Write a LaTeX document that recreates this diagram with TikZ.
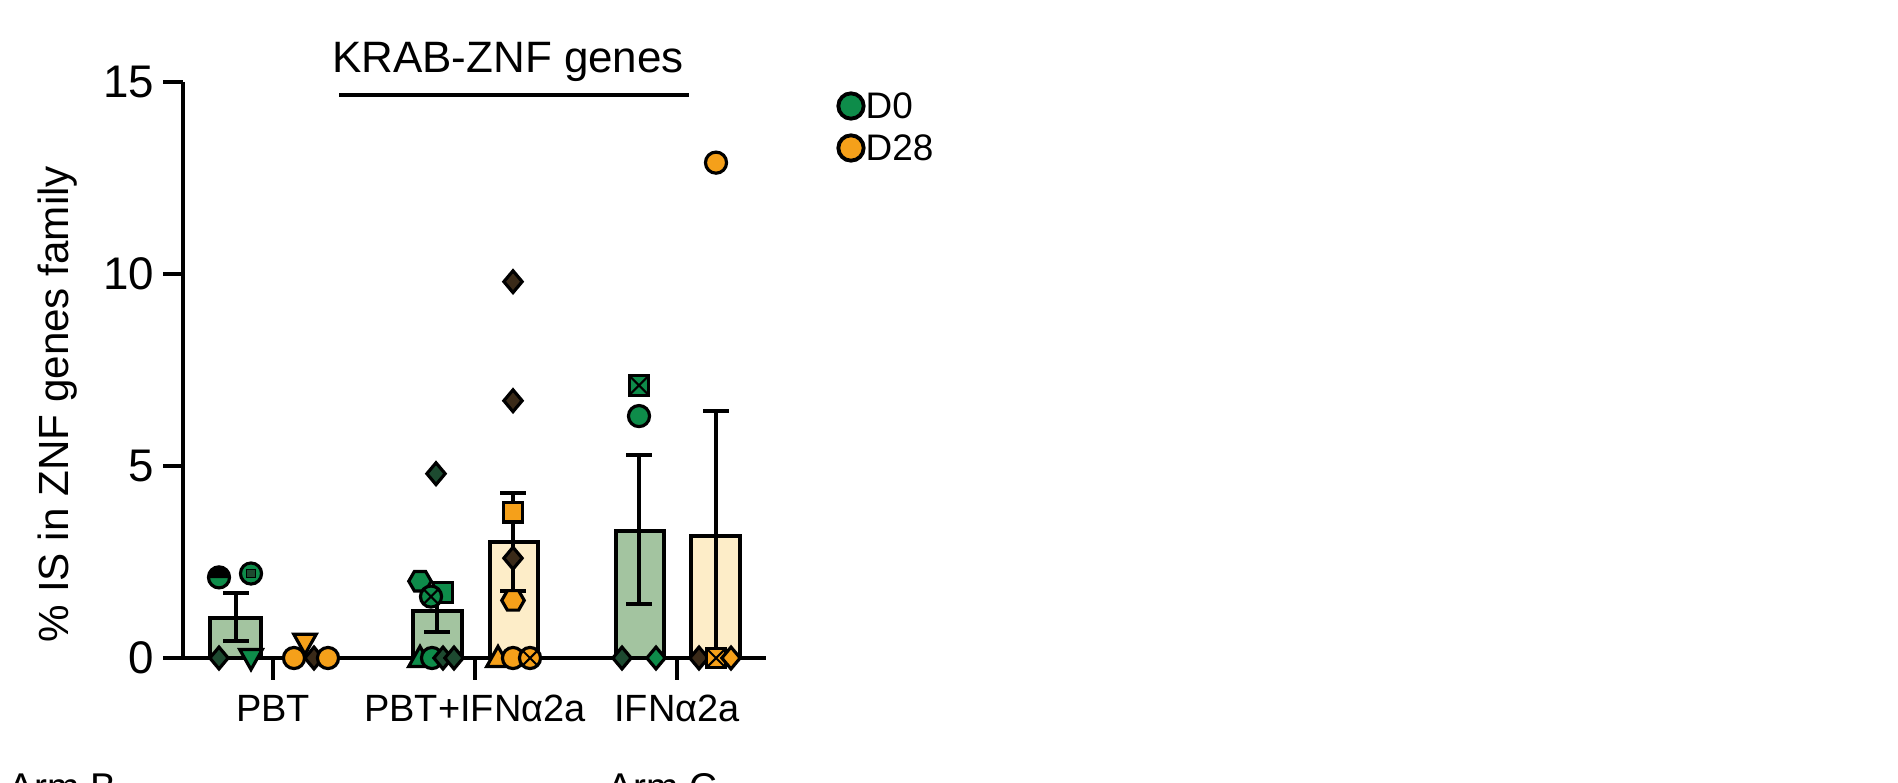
\documentclass[tikz,border=0pt]{standalone}
\usepackage{fontspec}
\setmainfont{Liberation Sans}
\definecolor{G}{HTML}{0E8C4A}
\definecolor{O}{HTML}{F5A01A}
\definecolor{GB}{HTML}{A3C4A0}
\definecolor{OB}{HTML}{FDEDC8}
\definecolor{DG}{HTML}{1D4A30}
\definecolor{DO}{HTML}{3A2A18}
\tikzset{mk/.style={draw=black,line width=0.9pt},
 ax/.style={line width=1.1pt},
 barbox/.style={draw=black,line width=1.1pt}}
\newcommand\Yv[1]{658-38.4*(#1)}
\newcommand\mC[3]{\draw[mk,fill=#3,shift={(#1,{\Yv{#2}})}] (0,0) circle (3pt);}
\newcommand\mS[3]{\draw[mk,fill=#3,shift={(#1,{\Yv{#2}})}] (-2.8pt,-2.8pt) rectangle (2.8pt,2.8pt);}
\newcommand\mD[3]{\draw[mk,fill=#3,shift={(#1,{\Yv{#2}})}] (0,3.1pt)--(2.6pt,0)--(0,-3.1pt)--(-2.6pt,0)--cycle;}
\newcommand\mT[3]{\draw[mk,fill=#3,shift={(#1,{\Yv{#2}})}] (0,3.3pt)--(3.2pt,-2.4pt)--(-3.2pt,-2.4pt)--cycle;}
\newcommand\mV[3]{\draw[mk,fill=#3,shift={(#1,{\Yv{#2}})}] (0,-3.3pt)--(3.2pt,2.4pt)--(-3.2pt,2.4pt)--cycle;}
\newcommand\mH[3]{\draw[mk,fill=#3,shift={(#1,{\Yv{#2}})}] (0:3.2pt)--(60:3.2pt)--(120:3.2pt)--(180:3.2pt)--(240:3.2pt)--(300:3.2pt)--cycle;}
\newcommand\mX[3]{\mC{#1}{#2}{#3}\draw[line width=0.6pt,shift={(#1,{\Yv{#2}})}] (-2pt,-2pt)--(2pt,2pt) (-2pt,2pt)--(2pt,-2pt);}
\newcommand\mQ[3]{\mS{#1}{#2}{#3}\draw[line width=0.6pt,shift={(#1,{\Yv{#2}})}] (-2.6pt,-2.6pt)--(2.6pt,2.6pt) (-2.6pt,2.6pt)--(2.6pt,-2.6pt);}
\newcommand\mybar[4]{\draw[barbox,fill=#4] (#1,{\Yv{0}}) rectangle (#2,{\Yv{#3}});}
\newcommand\myerr[3]{\draw[ax] (#1,{\Yv{#2}})--(#1,{\Yv{#3}}) (#1-13,{\Yv{#2}})--(#1+13,{\Yv{#2}}) (#1-13,{\Yv{#3}})--(#1+13,{\Yv{#3}});}
\begin{document}
\begin{tikzpicture}[x=0.01cm,y=-0.01cm]
\useasboundingbox (0,0) rectangle (1898,782);
% bars
\mybar{210}{261}{1.04}{GB}
\mybar{413}{462}{1.23}{GB}
\mybar{490}{538}{3.01}{OB}
\mybar{616}{664}{3.31}{GB}
\mybar{691}{740}{3.18}{OB}
% axes
\draw[ax] (183,82)--(183,658)--(766,658);
\foreach \v/\l in {0/0,5/5,10/10,15/15}{
  \draw[ax] (163,{\Yv{\v}})--(183,{\Yv{\v}});
  \node[anchor=east,font=\fontsize{13}{14}\selectfont,inner sep=0] (t\l) at (155,{\Yv{\v}}) {\l};}
\foreach \x/\n/\t in {273/a/PBT,475/b/PBT+IFNα2a,677/c/IFNα2a}{
  \draw[ax] (\x,658)--(\x,680);
  \node[font=\fontsize{10.8}{12}\selectfont,inner sep=0] (x\n) at (\x,708) {\t};}
\node[rotate=90,font=\fontsize{12}{14}\selectfont,inner sep=0] (ylab) at (58,404) {\% IS in ZNF genes family};
\node[font=\fontsize{12.5}{14}\selectfont,inner sep=0] (title) at (508,62) {KRAB-ZNF genes};
\draw[line width=1.3pt] (339,95)--(689,95);
% error bars
\myerr{236}{0.45}{1.69}
\myerr{437}{0.67}{1.72}
\myerr{513}{1.75}{4.29}
\myerr{639}{1.4}{5.29}
\myerr{716}{0}{6.43}
% points PBT
\mC{219}{2.1}{G}\draw[fill=black,shift={(219,{\Yv{2.1}})}] (-3pt,0) arc (180:0:3pt)--cycle;
\mC{251}{2.2}{G}\draw[fill=DG,shift={(251,{\Yv{2.2}})}] (-1.2pt,-1.2pt) rectangle (1.2pt,1.2pt);
\mD{219}{0}{DG}\mV{251}{0}{G}
\mV{305}{0.4}{O}\mC{294}{0}{O}\mD{314}{0}{DO}\mC{328}{0}{O}
% PBT+IFN D0
\mH{420}{2.0}{G}\mS{443}{1.7}{G}\mX{431}{1.6}{G}\mD{436}{4.8}{DG}
\mT{420}{0}{G}\mC{432}{0}{G}\mD{443}{0}{DG}\mD{454}{0}{DG}
% PBT+IFN D28
\mD{513}{9.8}{DO}\mD{513}{6.7}{DO}\mS{513}{3.8}{O}\mD{513}{2.6}{DO}\mH{513}{1.5}{O}
\mT{498}{0}{O}\mC{513}{0}{O}\mX{530}{0}{O}
% IFN D0
\mQ{639}{7.1}{G}\mC{639}{6.3}{G}\mD{622}{0}{DG}\mD{656}{0}{G}
% IFN D28
\mC{716}{12.9}{O}\mD{699}{0}{DO}\mQ{716}{0}{O}\mD{731}{0}{O}
% legend
\draw[mk,line width=1.1pt,fill=G] (851,106) circle (3.6pt);
\draw[mk,line width=1.1pt,fill=O] (851,148) circle (3.6pt);
\node[anchor=west,font=\fontsize{10.5}{12}\selectfont,inner sep=0] (l0) at (865,106) {D0};
\node[anchor=west,font=\fontsize{10.5}{12}\selectfont,inner sep=0] (l1) at (865,148) {D28};
\node[anchor=north west,font=\fontsize{11}{12}\selectfont,inner sep=0] (armb) at (8,773) {Arm B};
\node[anchor=north west,font=\fontsize{11}{12}\selectfont,inner sep=0] (armc) at (607,773) {Arm C};
\end{tikzpicture}
\end{document}
